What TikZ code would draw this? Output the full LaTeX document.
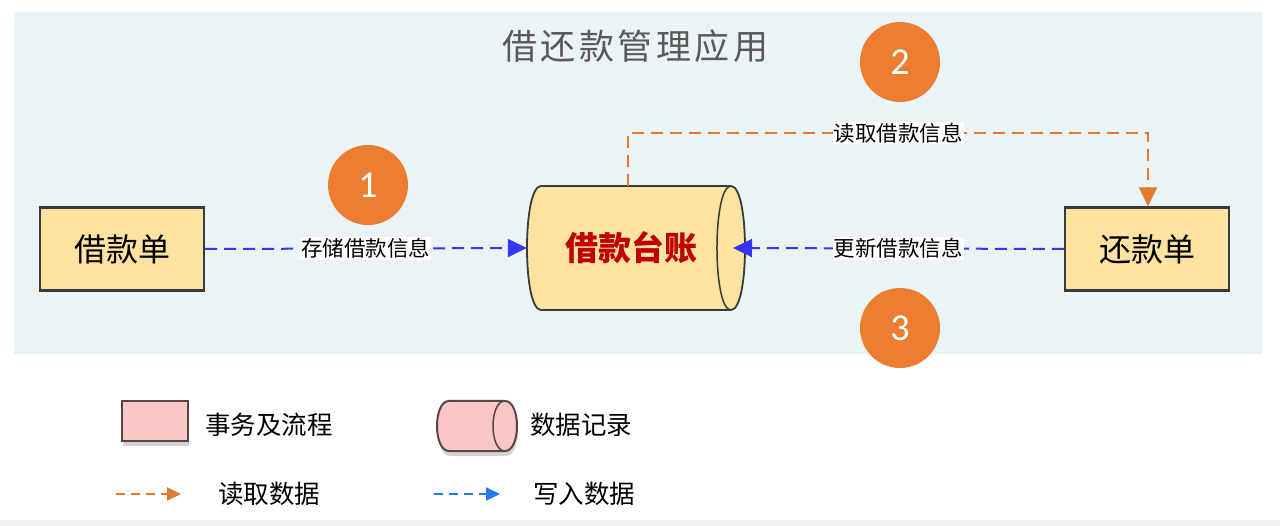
\documentclass[tikz,border=0pt]{standalone}
\usepackage{fontspec}
\setmainfont{Noto Sans CJK SC}
\newfontfamily\numfont{Carlito}
\usetikzlibrary{arrows.meta,shadows}
\definecolor{panel}{HTML}{EAF3F6}
\definecolor{boxfill}{HTML}{FDE3A1}
\definecolor{boxline}{HTML}{3A3A3A}
\definecolor{badge}{HTML}{ED7D31}
\definecolor{rd}{HTML}{E07A2E}
\definecolor{wr}{HTML}{3636F0}
\definecolor{wrleg}{HTML}{2878F0}
\definecolor{ledred}{HTML}{C00000}
\definecolor{pinkfill}{HTML}{FAC6C6}
\definecolor{pinkline}{HTML}{5A4545}
\newcommand{\tsp}{\hspace{3.5pt}}
\begin{document}
\begin{tikzpicture}[x=1pt,y=-1pt,
  procbox/.style={draw=boxline,line width=2.2pt,fill=boxfill,minimum width=164pt,minimum height=83pt,inner sep=0pt,font=\fontsize{32}{34}\selectfont},
  badgec/.style={circle,fill=badge,minimum size=80pt,inner sep=0pt,text=white,font=\numfont\fontsize{38}{40}\selectfont},
  readline/.style={draw=rd,line width=2pt,dash pattern=on 12pt off 7pt,-{Triangle[length=19pt,width=18pt]}},
  writeline/.style={draw=wr,line width=2pt,dash pattern=on 12pt off 7pt,-{Triangle[length=19pt,width=18pt]}},
  flowlabel/.style={fill=white,inner sep=1pt,font=\fontsize{21.5}{23}\selectfont},
  legtext/.style={anchor=west,inner sep=0pt,font=\fontsize{25.5}{27}\selectfont},
  ghost/.style={inner sep=0pt,draw=none}
]
\useasboundingbox (0,0) rectangle (1280,526);
\fill[white] (0,0) rectangle (1280,526);
\fill[panel] (14,12) rectangle (1262,354);
\fill[black!6] (0,520) rectangle (1280,526);

\node[text=black!65,font=\fontsize{35}{37}\selectfont] (title) at (635,46) {借\tsp 还\tsp 款\tsp 管\tsp 理\tsp 应\tsp 用};

% boxes
\node[procbox] (jk) at (122,249) {借款单};
\node[procbox] (hk) at (1147,249) {还款单};

% cylinder ledger
\node[ghost,minimum width=218pt,minimum height=124pt] (led) at (636,248) {};
\filldraw[fill=boxfill,draw=boxline,line width=1.8pt]
  (541,186) -- (731,186) .. controls (749.7,186) and (749.7,310) .. (731,310)
  -- (541,310) .. controls (522.3,310) and (522.3,186) .. (541,186) -- cycle;
\draw[boxline,line width=1.5pt] (731,186) .. controls (712.3,186) and (712.3,310) .. (731,310);
\node[text=ledred,font=\bfseries\fontsize{33}{35}\selectfont] (ledtext) at (631,248) {借款台账};
\coordinate (ledR) at (733,248);

% badges
\node[badgec] (b1) at (368,185) {1};
\node[badgec] (b2) at (900,62) {2};
\node[badgec] (b3) at (900,328) {3};

% connectors
\draw[writeline] (jk.east) -- node[flowlabel,pos=0.5] {存储借款信息} (led.west);
\draw[writeline] (hk.west) -- node[flowlabel,pos=0.5] {更新借款信息} (ledR);
\coordinate (rdA) at (628,133);
\coordinate (rdB) at (1148,133);
\draw[readline] (628,186) -- (rdA) -- node[flowlabel,pos=0.52] {读取借款信息} (rdB) -- (hk.north -| rdB);

% legend
\node[ghost,minimum width=66pt,minimum height=40pt] (legrect) at (155,421) {};
\filldraw[fill=pinkfill,draw=pinkline,line width=2pt,drop shadow={shadow xshift=1pt,shadow yshift=-5pt,opacity=0.35}]
  (legrect.north west) rectangle (legrect.south east);
\node[legtext] (t1) at (205,425) {事务及流程};

\node[ghost,minimum width=81pt,minimum height=51pt] (legcyl) at (477,426) {};
\filldraw[fill=pinkfill,draw=pinkline,line width=2pt,drop shadow={shadow xshift=1pt,shadow yshift=-5pt,opacity=0.35}]
  (449,401) -- (505,401) .. controls (521,401) and (521,451) .. (505,451)
  -- (449,451) .. controls (433,451) and (433,401) .. (449,401) -- cycle;
\draw[pinkline,line width=1.5pt] (505,401) .. controls (489,401) and (489,451) .. (505,451);
\node[legtext] (t2) at (530,425) {数据记录};

\coordinate (la1) at (116,494);
\coordinate (la2) at (181,494);
\draw[draw=rd,line width=2pt,dash pattern=on 9pt off 6pt,-{Triangle[length=14pt,width=13pt]}] (la1) -- (la2);
\node[legtext] (t3) at (218,494) {读取数据};
\coordinate (lb1) at (434,494);
\coordinate (lb2) at (500,494);
\draw[draw=wrleg,line width=2pt,dash pattern=on 9pt off 6pt,-{Triangle[length=14pt,width=13pt]}] (lb1) -- (lb2);
\node[legtext] (t4) at (533,494) {写入数据};
\end{tikzpicture}
\end{document}
